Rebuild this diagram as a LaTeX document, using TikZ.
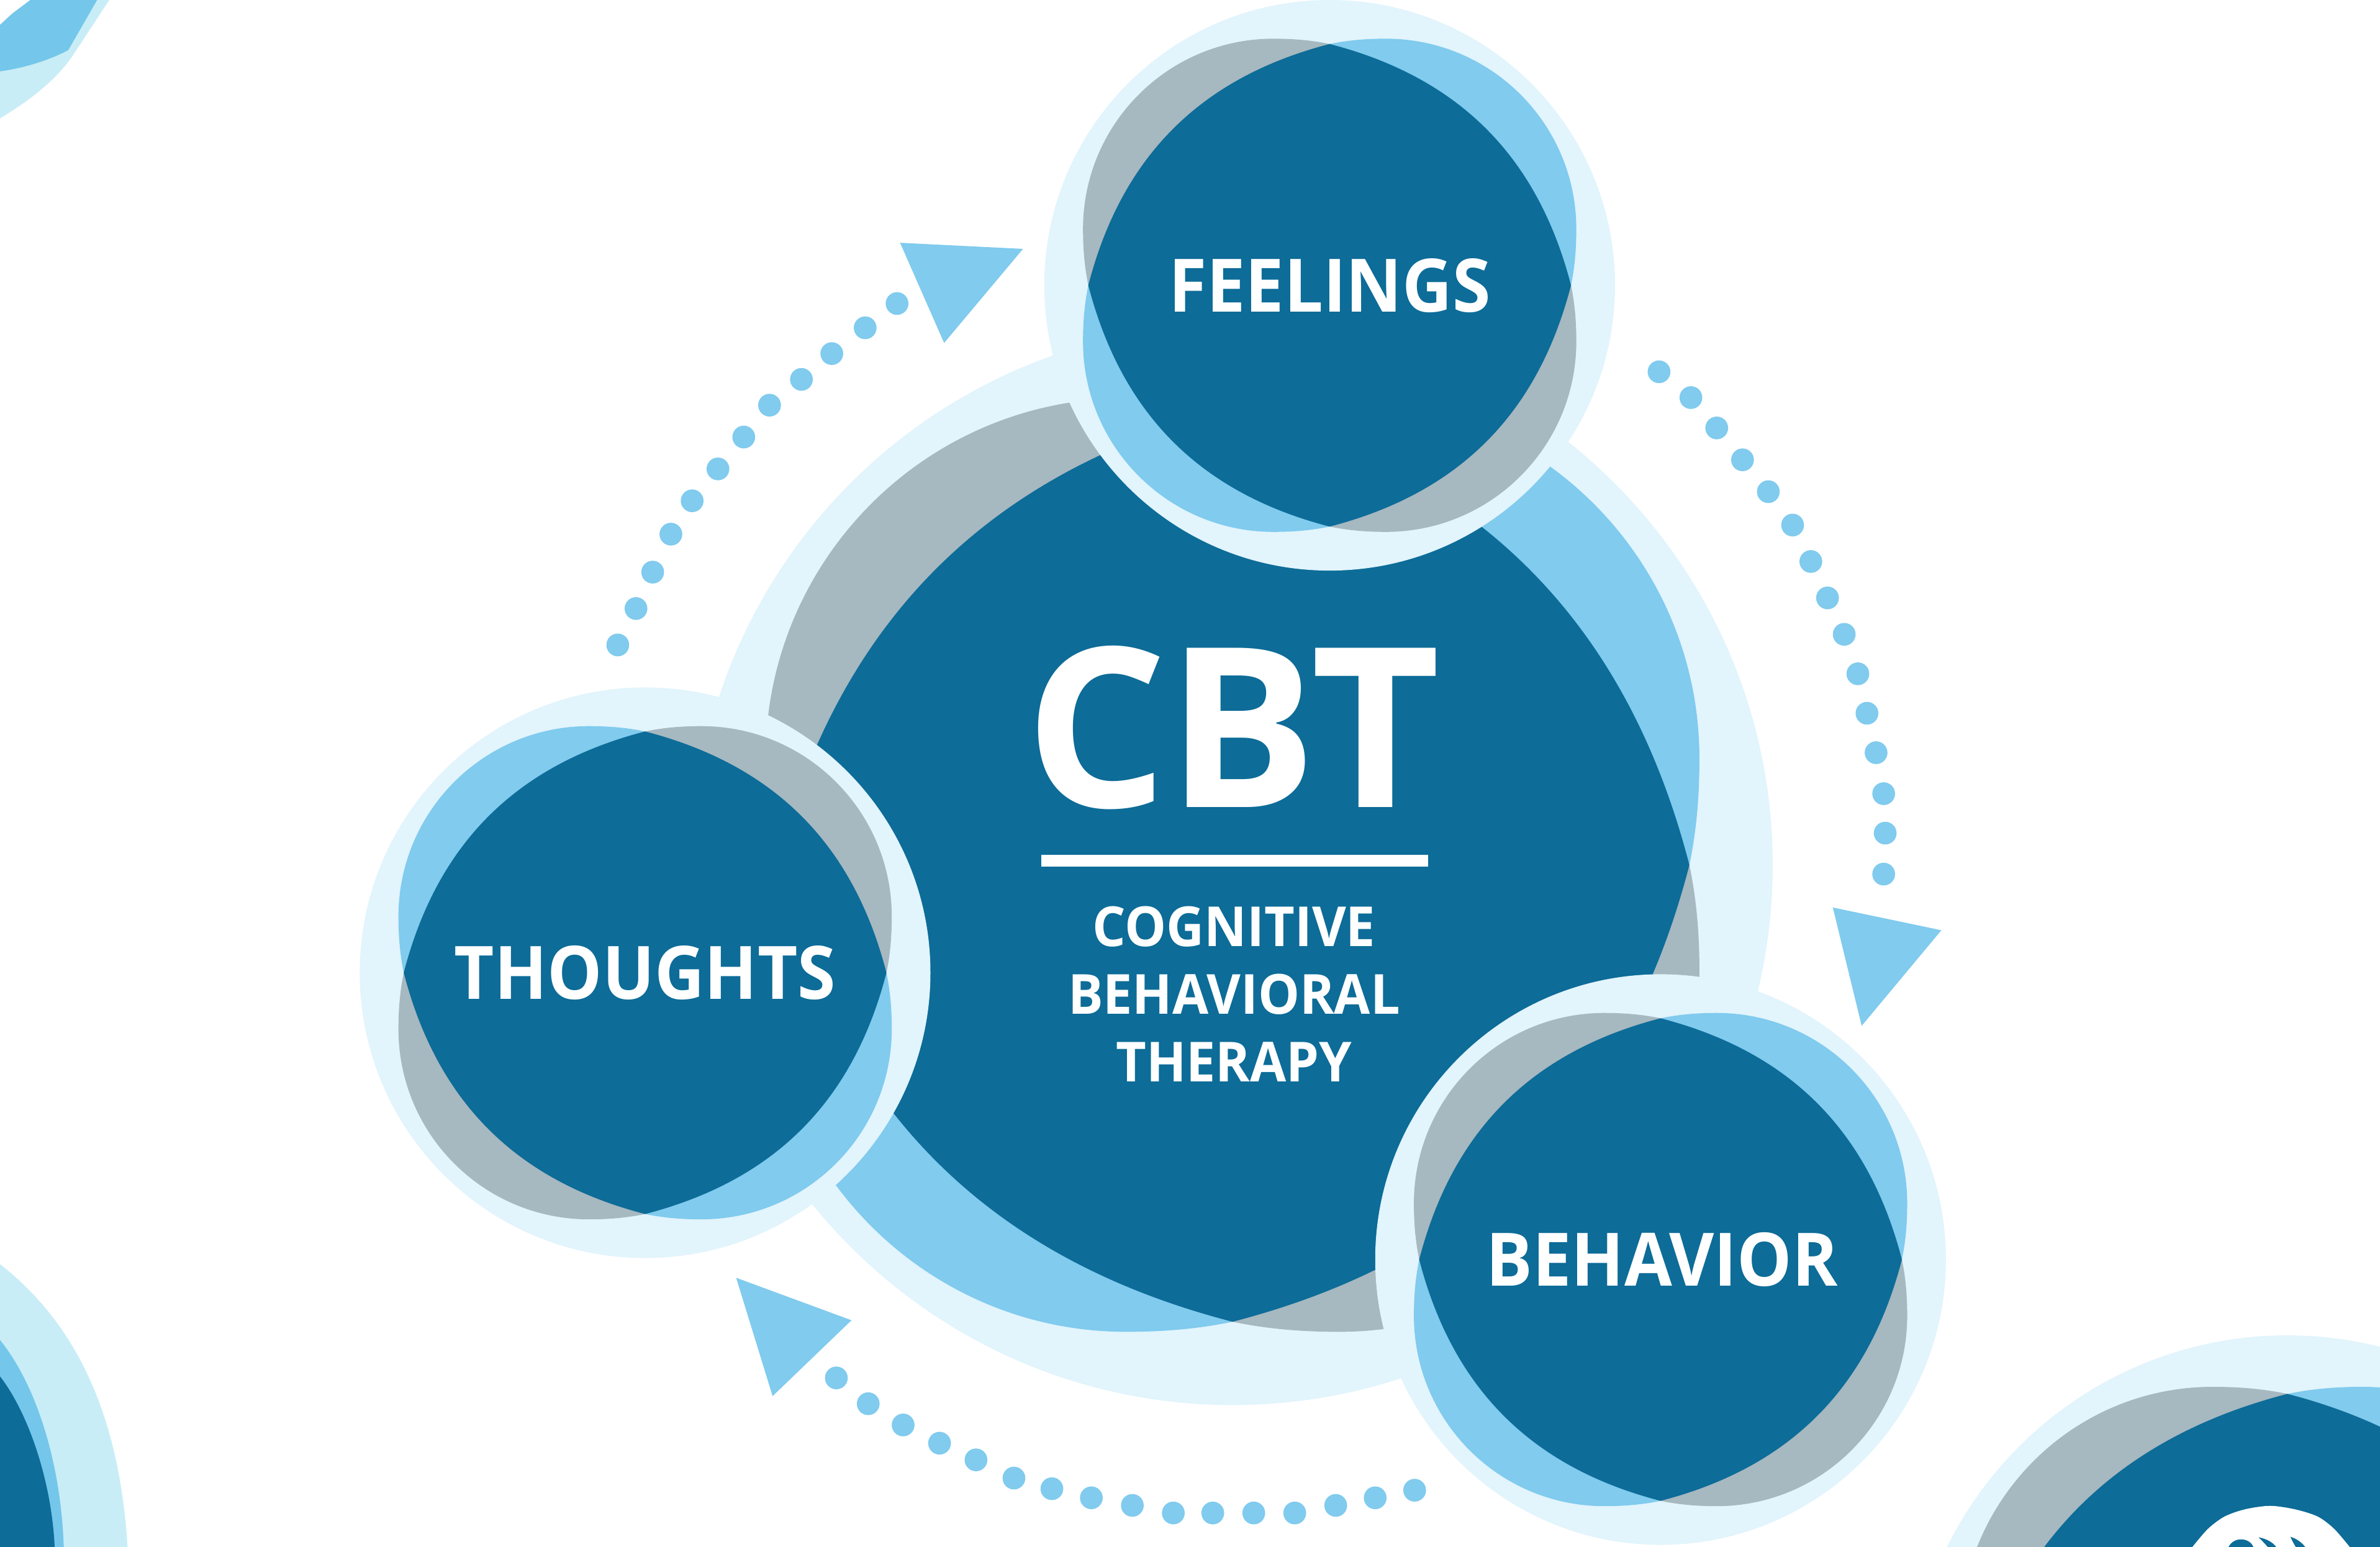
\documentclass[tikz,border=0pt]{standalone}
\usepackage{fontspec}
\setmainfont{Open Sans}
\newfontfamily\wordfont[FakeStretch=0.937]{Open Sans}
\newfontfamily\subfont[FakeStretch=0.948]{Open Sans}
\usepackage{tikz}
\definecolor{CBTdark}{RGB}{13, 108, 152}
\definecolor{CBTgrey}{RGB}{166, 184, 192}
\definecolor{CBTlight}{RGB}{128, 203, 238}
\definecolor{CBTpale}{RGB}{226, 244, 252}
\definecolor{CBTcyan}{RGB}{201, 237, 246}
\definecolor{CBTcorner}{RGB}{116, 199, 234}
\tikzset{
	word/.style={text=white, font=\wordfont\bfseries\fontsize{48.6}{48.6}\selectfont, inner sep=0pt},
	subword/.style={text=white, align=center, inner sep=0pt, font=\subfont\bfseries\fontsize{36.4}{44.5}\selectfont},
	dot/.style={fill=CBTlight},
	head/.style={fill=CBTlight}
}
% centre x, centre y, scale, colour of the top left lobe, colour of the bottom left lobe
\newcommand{\flower}[5]{
	\begin{scope}[shift={(#1,#2)}, scale=#3]
		\fill[CBTpale] (0,-188) .. controls (103.8,-188) and (188,-103.8) .. (188,0) .. controls (188,103.8) and (103.8,188) .. (0,188) .. controls (-103.8,188) and (-188,103.8) .. (-188,0) .. controls (-188,-103.8) and (-103.8,-188) .. cycle;
		\foreach \ang/\col in {0/#4, 90/#5, 180/#4, 270/#5}
		{
			\fill[\col, rotate=\ang] (0,-159) .. controls (-12,-161.5) and (-24,-162.5) .. (-37,-162.5) .. controls (-106.3,-162.5) and (-162.5,-106.3) .. (-162.5,-37) .. controls (-162.5,-24) and (-161.5,-12) .. (-159,0) -- cycle;
		}
		\fill[CBTdark] (0,-159) .. controls (85,-137) and (137,-85) .. (159,0) .. controls (137,85) and (85,137) .. (0,159) .. controls (-85,137) and (-137,85) .. (-159,0) .. controls (-137,-85) and (-85,-137) .. cycle;
	\end{scope}
}
\begin{document}
\begin{tikzpicture}[x=1pt, y=-1pt]
	\useasboundingbox (0,0) rectangle (1568,1019.4);
	\clip (0,0) rectangle (1568,1019.4);
	% Corners
	\fill[CBTcyan] (0,78) .. controls (20,66) and (38,52) .. (49,35) -- (72,0) -- (20,0) -- (8,9) -- (0,16.4) -- cycle;
	\fill[CBTcorner] (0,47) .. controls (15,45) and (32,40) .. (45,33) -- (64,0) -- (20,0) -- (8,9) -- (0,16.4) -- cycle;
	\fill[CBTcyan] (0,833) .. controls (42,866) and (78,920) .. (84,1019.4) -- (0,1019.4) -- cycle;
	\fill[CBTcorner] (0,883) .. controls (22,910) and (40,960) .. (42,1019.4) -- (0,1019.4) -- cycle;
	\fill[CBTdark] (0,907) .. controls (18,930) and (34,975) .. (36,1019.4) -- (0,1019.4) -- cycle;
	\flower{1507}{1130}{1.33}{CBTgrey}{CBTlight}
	\fill[white] plot[smooth] coordinates {(1444.4,1019.4) (1454.6,1007.5) (1465.5,999.4) (1479,994.6) (1495.5,992.3) (1512,994.6) (1527,999.4) (1537.8,1007.5) (1548,1019.4)} -- cycle;
	\fill[CBTdark] (1468.2,1019.4) .. controls (1470,1016) and (1473,1014.4) .. (1476.4,1014.4) .. controls (1480,1014.4) and (1483,1016) .. (1484.6,1019.4) -- cycle;
	\fill[CBTdark] (1488,1013) .. controls (1493,1014) and (1497,1016) .. (1499.6,1019.4) -- (1494,1019.4) .. controls (1492,1017) and (1490,1015) .. cycle;
	\fill[CBTdark] (1509,1012.7) .. controls (1513,1014) and (1516,1016) .. (1518.7,1019.4) -- (1512.5,1019.4) .. controls (1511,1017) and (1510,1015) .. cycle;
	% Circles
	\flower{812}{570}{1.893}{CBTgrey}{CBTlight}
	\flower{876}{188}{1}{CBTgrey}{CBTlight}
	\flower{425}{641}{1}{CBTlight}{CBTgrey}
	\flower{1094}{830}{1}{CBTgrey}{CBTlight}
	% Dots
	\foreach \dx/\dy in {407/425, 419/401, 430/377, 442/352, 456/330, 473/309, 490/288, 507/267, 528/250, 548/233, 570/216, 591/200,
		1093/245, 1114/262, 1131/282, 1148/303, 1165/324, 1181/346, 1193/370, 1204/394, 1215/418, 1224/444, 1230/470, 1236/496, 1241/523, 1242/549, 1241/576,
		551/908, 572/925, 595/939, 619/951, 643/962, 668/974, 693/981, 719/987, 746/992, 773/997, 799/997, 826/997, 853/997, 880/992, 906/987, 932/982}
	{
		\fill[dot] (\dx,\dy) circle (7.5);
	}
	% Arrow heads
	\fill[head] (593,160) -- (674,164) -- (622,226) -- cycle;
	\fill[head] (1207.5,598) -- (1279,613) -- (1226.5,676) -- cycle;
	\fill[head] (485,842) -- (561,870) -- (509,920) -- cycle;
	% Labels
	\node[word] (feelings) at (876,188) {FEELINGS};
	\node[word] (thoughts) at (425,641) {THOUGHTS};
	\node[word] (behavior) at (1095,830) {BEHAVIOR};
	\node[text=white, inner sep=0pt, font=\bfseries\fontsize{147}{147}\selectfont] (cbt) at (812,479.5) {CBT};
	\fill[white] (686,563.5) rectangle (941,571);
	\node[subword] (full) at (813,655) {COGNITIVE\\BEHAVIORAL\\THERAPY};
\end{tikzpicture}
\end{document}
